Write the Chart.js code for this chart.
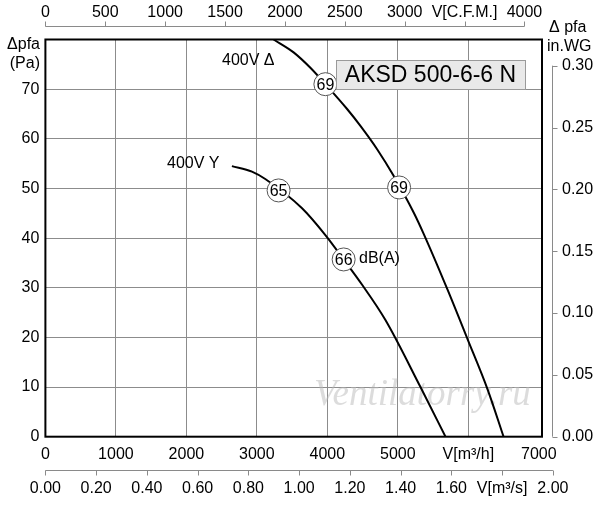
<!DOCTYPE html>
<html>
<head>
<meta charset="utf-8">
<script src="https://cdn.jsdelivr.net/npm/chart.js@4/dist/chart.umd.min.js"></script>
<style>
html,body{margin:0;padding:0;background:#fff;}
#wrap{width:600px;height:505px;position:relative;}
</style>
</head>
<body>
<div id="wrap"><canvas id="c" width="600" height="505"></canvas></div>
<script>
// ---- data ----
const flowTicks = [0, 1000, 2000, 3000, 4000, 5000, 6000, 7000];
const flowTickLabels = ["0", "1000", "2000", "3000", "4000", "5000", "V[m³/h]", "7000"];
const pressureTicks = [0, 10, 20, 30, 40, 50, 60, 70];
const pressureTickLabels = ["0", "10", "20", "30", "40", "50", "60", "70"];
const cfmTicks = [0, 500, 1000, 1500, 2000, 2500, 3000, 3500, 4000];
const cfmTickLabels = ["0", "500", "1000", "1500", "2000", "2500", "3000", "V[C.F.M.]", "4000"];
const m3sTicks = [0, 0.2, 0.4, 0.6, 0.8, 1.0, 1.2, 1.4, 1.6, 1.8, 2.0];
const m3sTickLabels = ["0.00", "0.20", "0.40", "0.60", "0.80", "1.00", "1.20", "1.40", "1.60", "V[m³/s]", "2.00"];
const inwgTicks = [0, 0.05, 0.10, 0.15, 0.20, 0.25, 0.30];
const inwgTickLabels = ["0.00", "0.05", "0.10", "0.15", "0.20", "0.25", "0.30"];

const deltaFlow = [3237, 3521, 3759, 3972, 4280, 4469, 4706, 4942, 5226, 5368, 5705, 5990, 6274, 6500];
const deltaPressure = [80, 77.4, 74.3, 71.0, 66.0, 62.6, 57.9, 52.5, 45.1, 40.8, 29.6, 19.6, 9.5, 0];
const starFlow = [2646, 2930, 3119, 3641, 3972, 4231, 4493, 4824, 5321, 5676];
const starPressure = [54.5, 53.4, 51.9, 46.0, 40.6, 35.7, 30.6, 23.5, 10.0, 0];

const markerFlow = [3972, 5018, 3308, 4231];
const markerPressure = [71.0, 50.2, 49.6, 35.7];
const markerLabels = ["69", "69", "65", "66"];

const M3H_PER_CFM = 1.699011;
const M3H_PER_M3S = 3600;
const PA_PER_INWG = 249.089;

const FONT = '"Liberation Sans", Arial, Helvetica, sans-serif';
const toXY = (xs, ys) => xs.map((x, i) => ({x: x, y: ys[i]}));

const decorPlugin = {
  id: 'decor',
  beforeDatasetsDraw(chart) {
    const ctx = chart.ctx;
    ctx.save();
    ctx.font = 'italic 37px "Liberation Serif", "Times New Roman", serif';
    ctx.fillStyle = 'rgba(185,185,185,0.5)';
    ctx.textAlign = 'left';
    ctx.textBaseline = 'middle';
    ctx.fillText('Ventilatorry.ru', 314, 395);
    ctx.restore();
  },
  afterDatasetsDraw(chart) {
    const ctx = chart.ctx;
    const a = chart.chartArea;
    ctx.save();
    const meta = chart.getDatasetMeta(0);
    ctx.font = '16px ' + FONT;
    ctx.fillStyle = '#000';
    ctx.textAlign = 'center';
    ctx.textBaseline = 'middle';
    meta.data.forEach((pt, i) => {
      ctx.fillText(markerLabels[i], pt.x, pt.y + 1);
    });
    ctx.strokeStyle = '#000';
    ctx.lineWidth = 2;
    ctx.strokeRect(a.left, a.top, a.right - a.left, a.bottom - a.top);

    ctx.font = '16px ' + FONT;
    ctx.textAlign = 'left';
    ctx.fillText('400V Δ', 222, 61);
    ctx.fillText('400V Y', 167, 164);
    ctx.fillText('dB(A)', 359, 259);

    ctx.fillStyle = '#e9e9e9';
    ctx.fillRect(336, 60, 189, 29);
    ctx.strokeStyle = '#9a9a9a';
    ctx.lineWidth = 1;
    ctx.strokeRect(336.5, 60.5, 189, 29);
    ctx.fillStyle = '#000';
    ctx.font = '23px ' + FONT;
    ctx.textAlign = 'center';
    ctx.fillText('AKSD 500-6-6 N', 430.5, 75.5);
    ctx.restore();
  },
  afterDraw(chart) {
    const ctx = chart.ctx;
    const xs = chart.scales.x, ys = chart.scales.y;
    ctx.save();
    ctx.strokeStyle = '#8a8a8a';
    ctx.lineWidth = 1;
    ctx.fillStyle = '#000';
    ctx.font = '16px ' + FONT;

    const topY = 26.5;
    const cx0 = xs.getPixelForValue(cfmTicks[0] * M3H_PER_CFM);
    const cx1 = xs.getPixelForValue(cfmTicks[cfmTicks.length - 1] * M3H_PER_CFM);
    ctx.beginPath();
    ctx.moveTo(cx0, topY); ctx.lineTo(cx1, topY);
    cfmTicks.forEach(v => {
      const px = Math.round(xs.getPixelForValue(v * M3H_PER_CFM)) + 0.5;
      ctx.moveTo(px, topY); ctx.lineTo(px, topY - 5);
    });
    ctx.stroke();
    ctx.textAlign = 'center';
    ctx.textBaseline = 'middle';
    cfmTicks.forEach((v, i) => {
      ctx.fillText(cfmTickLabels[i], xs.getPixelForValue(v * M3H_PER_CFM), 13);
    });

    const botY = 470.5;
    const mx0 = xs.getPixelForValue(m3sTicks[0] * M3H_PER_M3S);
    const mx1 = xs.getPixelForValue(m3sTicks[m3sTicks.length - 1] * M3H_PER_M3S);
    ctx.beginPath();
    ctx.moveTo(mx0, botY); ctx.lineTo(mx1, botY);
    m3sTicks.forEach(v => {
      const px = Math.round(xs.getPixelForValue(v * M3H_PER_M3S)) + 0.5;
      ctx.moveTo(px, botY); ctx.lineTo(px, botY + 5);
    });
    ctx.stroke();
    m3sTicks.forEach((v, i) => {
      ctx.fillText(m3sTickLabels[i], xs.getPixelForValue(v * M3H_PER_M3S), 489);
    });

    const rx = 552.5;
    const ry0 = ys.getPixelForValue(inwgTicks[0] * PA_PER_INWG);
    const ry1 = ys.getPixelForValue(inwgTicks[inwgTicks.length - 1] * PA_PER_INWG);
    ctx.beginPath();
    ctx.moveTo(rx, ry0); ctx.lineTo(rx, ry1);
    inwgTicks.forEach(v => {
      const py = Math.round(ys.getPixelForValue(v * PA_PER_INWG)) + 0.5;
      ctx.moveTo(rx, py); ctx.lineTo(rx + 5, py);
    });
    ctx.stroke();
    ctx.textAlign = 'left';
    inwgTicks.forEach((v, i) => {
      ctx.fillText(inwgTickLabels[i], 562, ys.getPixelForValue(v * PA_PER_INWG));
    });

    ctx.textAlign = 'right';
    ctx.fillText('Δpfa', 40, 45);
    ctx.fillText('(Pa)', 40, 64);
    ctx.textAlign = 'left';
    ctx.fillText('Δ pfa', 549, 28);
    ctx.fillText('in.WG', 547, 47);
    ctx.restore();
  }
};

new Chart(document.getElementById('c'), {
  type: 'line',
  data: {
    datasets: [
      {
        type: 'scatter',
        data: toXY(markerFlow, markerPressure),
        pointRadius: 11.5,
        pointHoverRadius: 11.5,
        pointBackgroundColor: '#fff',
        pointBorderColor: '#555',
        pointBorderWidth: 1,
        showLine: false,
        order: 0
      },
      {
        label: '400V Δ',
        data: toXY(deltaFlow, deltaPressure),
        borderColor: '#000',
        borderWidth: 2,
        pointRadius: 0,
        cubicInterpolationMode: 'monotone',
        fill: false,
        order: 1
      },
      {
        label: '400V Y',
        data: toXY(starFlow, starPressure),
        borderColor: '#000',
        borderWidth: 2,
        pointRadius: 0,
        cubicInterpolationMode: 'monotone',
        fill: false,
        order: 1
      }
    ]
  },
  options: {
    responsive: false,
    animation: false,
    devicePixelRatio: 1,
    layout: { padding: { top: 39.5, right: 58, left: 0, bottom: 0 } },
    plugins: { legend: { display: false }, tooltip: { enabled: false } },
    events: [],
    scales: {
      x: {
        type: 'linear',
        position: 'bottom',
        min: 0,
        max: 7045,
        afterFit(s) { s.height = 505 - 436.7; },
        afterBuildTicks(s) { s.ticks = flowTicks.map(v => ({ value: v })); },
        grid: {
          drawTicks: false,
          color: c => (c.tick && (c.tick.value === 0 || c.tick.value === 7000)) ? 'rgba(0,0,0,0)' : '#8c8c8c',
          lineWidth: 1
        },
        border: { display: false },
        ticks: {
          autoSkip: false,
          maxRotation: 0,
          padding: 8,
          color: '#000',
          font: { family: FONT, size: 16 },
          callback: (v) => { const i = flowTicks.indexOf(v); return i >= 0 ? flowTickLabels[i] : ''; }
        }
      },
      y: {
        type: 'linear',
        min: 0,
        max: 80,
        afterFit(s) { s.width = 45.4; },
        afterBuildTicks(s) { s.ticks = pressureTicks.map(v => ({ value: v })); },
        grid: {
          drawTicks: false,
          color: c => (c.tick && c.tick.value === 0) ? 'rgba(0,0,0,0)' : '#8c8c8c',
          lineWidth: 1
        },
        border: { display: false },
        ticks: {
          padding: 6,
          color: '#000',
          font: { family: FONT, size: 16 },
          callback: (v) => { const i = pressureTicks.indexOf(v); return i >= 0 ? pressureTickLabels[i] : ''; }
        }
      }
    }
  },
  plugins: [decorPlugin]
});
</script>
</body>
</html>
